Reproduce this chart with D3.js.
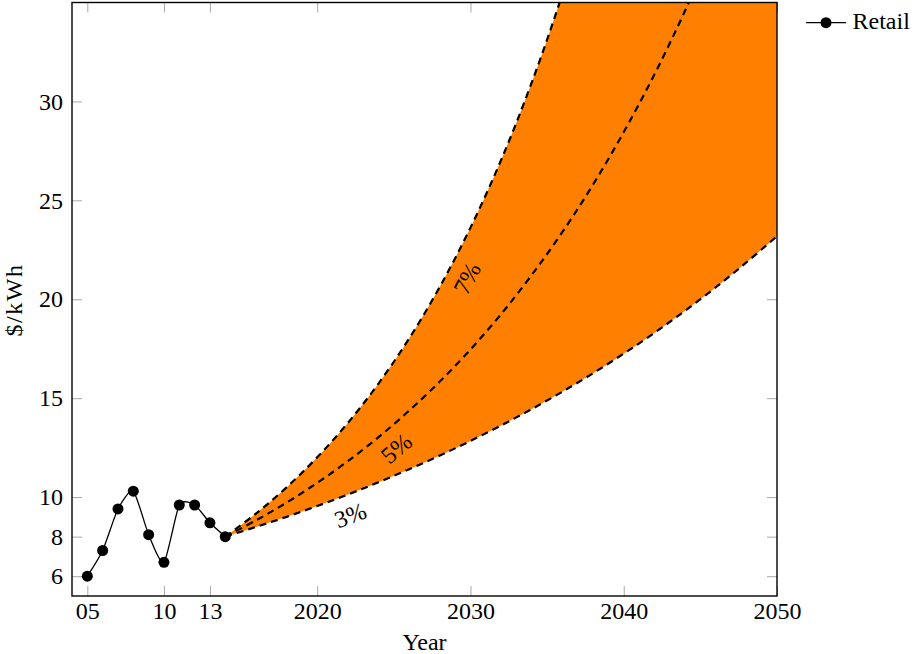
<!DOCTYPE html>
<html>
<head>
<meta charset="utf-8">
<script src="https://cdn.jsdelivr.net/npm/d3@7"></script>
<style>
  body { margin: 0; background: #fff; }
  svg { display: block; }
</style>
</head>
<body>
<div id="chart"></div>
<script>
// Data
var retailYears = [2005, 2006, 2007, 2008, 2009, 2010, 2011, 2012, 2013, 2014];
var retail = [6.0, 7.3, 9.4, 10.3, 8.1, 6.7, 9.6, 9.6, 8.7, 8.0];

var projYears = [2014, 2016, 2018, 2020, 2022, 2024, 2026, 2028, 2030, 2032,
                 2034, 2036, 2038, 2040, 2042, 2044, 2046, 2048, 2050];
var growth3 = [8.00, 8.49, 9.00, 9.55, 10.13, 10.75, 11.41, 12.10, 12.84, 13.62,
               14.45, 15.33, 16.26, 17.25, 18.30, 19.42, 20.60, 21.86, 23.19];
var growth5 = [8.00, 8.82, 9.72, 10.72, 11.82, 13.03, 14.37, 15.84, 17.46, 19.25,
               21.23, 23.40, 25.80, 28.45, 31.36, 34.58, 38.12];
var growth7 = [8.00, 9.16, 10.49, 12.01, 13.75, 15.74, 18.02, 20.63, 23.62, 27.04,
               30.96, 35.44, 40.58];

var rateLabels = ["3%", "5%", "7%"];
var labelYears = [2021.7, 2024.3, 2028.6];

var xTicks = [2005, 2010, 2013, 2020, 2030, 2040, 2050];
var xTickLabels = ["05", "10", "13", "2020", "2030", "2040", "2050"];
var yTicks = [6, 8, 10, 15, 20, 25, 30];

// Layout
var w = 914, h = 654;
var plotLeft = 72, plotRight = 777, plotTop = 2.5, plotBottom = 596;
var font = "'Liberation Serif', 'Times New Roman', serif";
var fontSize = 24;

var x = d3.scaleLinear().domain([2004, 2050]).range([plotLeft, plotRight]);
var y = d3.scaleLinear().domain([5, 35]).range([plotBottom, plotTop]);

var svg = d3.select("#chart")
  .append("svg")
  .attr("width", w)
  .attr("height", h)
  .style("font-family", font);

svg.append("defs").append("clipPath")
  .attr("id", "plotclip")
  .append("rect")
  .attr("x", plotLeft)
  .attr("y", plotTop)
  .attr("width", plotRight - plotLeft)
  .attr("height", plotBottom - plotTop);

// Axes with ticks pointing inward
function styleAxis(g) {
  g.select(".domain").remove();
  g.selectAll(".tick line").attr("stroke", "#a8a8a8").attr("stroke-width", 1);
  g.selectAll(".tick text")
    .attr("fill", "#000")
    .style("font-family", font)
    .style("font-size", fontSize + "px");
}

svg.append("g")
  .attr("transform", "translate(0," + plotBottom + ")")
  .call(d3.axisBottom(x).tickValues(xTicks).tickSizeInner(-10).tickSizeOuter(0).tickPadding(6)
    .tickFormat(function(d, i) { return xTickLabels[i]; }))
  .call(styleAxis);

svg.append("g")
  .attr("transform", "translate(0," + plotTop + ")")
  .call(d3.axisTop(x).tickValues(xTicks).tickSizeInner(-10).tickSizeOuter(0).tickFormat(""))
  .call(styleAxis);

svg.append("g")
  .attr("transform", "translate(" + plotLeft + ",0)")
  .call(d3.axisLeft(y).tickValues(yTicks).tickSizeInner(-10).tickSizeOuter(0).tickPadding(9))
  .call(styleAxis);

svg.append("g")
  .attr("transform", "translate(" + plotRight + ",0)")
  .call(d3.axisRight(y).tickValues(yTicks).tickSizeInner(-10).tickSizeOuter(0).tickFormat(""))
  .call(styleAxis);

// Projection band
var plot = svg.append("g").attr("clip-path", "url(#plotclip)");

function pts(years, vals) {
  return vals.map(function(v, i) { return [years[i], v]; });
}
var lineGen = d3.line()
  .x(function(d) { return x(d[0]); })
  .y(function(d) { return y(d[1]); })
  .curve(d3.curveCatmullRom);

var upper = pts(projYears, growth7);
var lower = pts(projYears, growth3);
var last = upper[upper.length - 1];
var bandPath = lineGen(upper)
  + "L" + x(2050) + "," + y(last[1])
  + lineGen(lower.slice().reverse()).replace(/^M/, "L")
  + "Z";

plot.append("path")
  .attr("d", bandPath)
  .attr("fill", "#ff8000")
  .attr("stroke", "none");

[growth3, growth5, growth7].forEach(function(vals) {
  plot.append("path")
    .attr("d", lineGen(pts(projYears, vals)))
    .attr("fill", "none")
    .attr("stroke", "#000")
    .attr("stroke-width", 2.2)
    .attr("stroke-dasharray", "7,5");
});

// Rate labels, sloped along each curve and set just below it
function pointOn(vals, yr) {
  var i = Math.min(d3.bisectRight(projYears, yr) - 1, vals.length - 2);
  var x0 = x(projYears[i]), y0 = y(vals[i]);
  var x1 = x(projYears[i + 1]), y1 = y(vals[i + 1]);
  var t = (x(yr) - x0) / (x1 - x0);
  return { x: x0 + t * (x1 - x0), y: y0 + t * (y1 - y0), a: Math.atan2(y1 - y0, x1 - x0) };
}
[growth3, growth5, growth7].forEach(function(vals, k) {
  var p = pointOn(vals, labelYears[k]);
  var off = 20;
  var cx = p.x - Math.sin(p.a) * off;
  var cy = p.y + Math.cos(p.a) * off;
  svg.append("text")
    .attr("transform", "translate(" + cx + "," + cy + ") rotate(" + (p.a * 180 / Math.PI) + ")")
    .attr("text-anchor", "middle")
    .attr("dy", "0.35em")
    .style("font-size", fontSize + "px")
    .text(rateLabels[k]);
});

// Retail history
var retailLine = d3.line()
  .x(function(d, i) { return x(retailYears[i]); })
  .y(function(d) { return y(d); })
  .curve(d3.curveCardinal.tension(0.35));

svg.append("path")
  .attr("d", retailLine(retail))
  .attr("fill", "none")
  .attr("stroke", "#000")
  .attr("stroke-width", 1.3);

svg.selectAll(".dot")
  .data(retail)
  .enter()
  .append("circle")
  .attr("class", "dot")
  .attr("cx", function(d, i) { return x(retailYears[i]); })
  .attr("cy", function(d) { return y(d); })
  .attr("r", 5.5)
  .attr("fill", "#000");

// Frame
svg.append("rect")
  .attr("x", plotLeft)
  .attr("y", plotTop)
  .attr("width", plotRight - plotLeft)
  .attr("height", plotBottom - plotTop)
  .attr("fill", "none")
  .attr("stroke", "#000")
  .attr("stroke-width", 1.4);

// Axis titles
svg.append("text")
  .attr("x", (plotLeft + plotRight) / 2)
  .attr("y", 650)
  .attr("text-anchor", "middle")
  .style("font-size", fontSize + "px")
  .text("Year");

svg.append("text")
  .attr("transform", "rotate(-90)")
  .attr("x", -300)
  .attr("y", 22)
  .attr("text-anchor", "middle")
  .style("font-size", fontSize + "px")
  .style("letter-spacing", "1.5px")
  .text("$/kWh");

// Legend
var legend = svg.append("g").attr("transform", "translate(806,22.7)");
legend.append("line")
  .attr("x1", 0).attr("x2", 40)
  .attr("stroke", "#000").attr("stroke-width", 1.3);
legend.append("circle")
  .attr("cx", 20).attr("r", 5.5).attr("fill", "#000");
legend.append("text")
  .attr("x", 46.5)
  .attr("y", 6.5)
  .style("font-size", fontSize + "px")
  .text("Retail");
</script>
</body>
</html>
